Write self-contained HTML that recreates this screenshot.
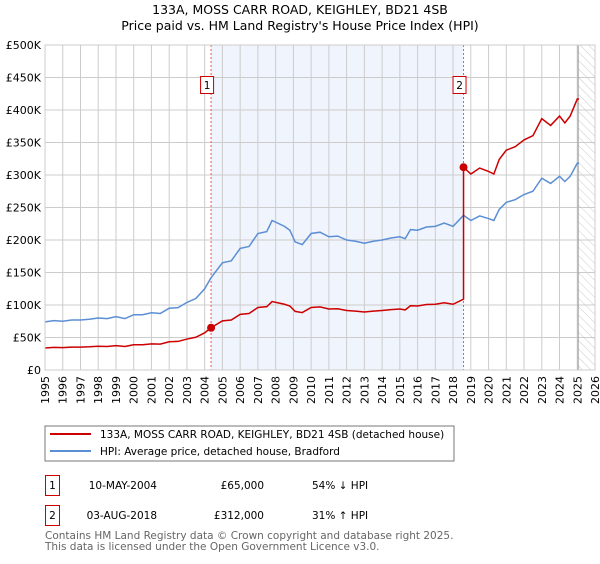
<!DOCTYPE html>
<html><head><meta charset="utf-8"><style>
body{margin:0;background:#fff;font-family:"DejaVu Sans","Liberation Sans",sans-serif;}
svg text{font-family:"DejaVu Sans","Liberation Sans",sans-serif;}
</style></head><body>
<svg id="c" width="600" height="560" xmlns="http://www.w3.org/2000/svg">
<defs><pattern id="hatch" width="6" height="6" patternUnits="userSpaceOnUse" patternTransform="rotate(-45)"><line x1="0" y1="0" x2="0" y2="6" stroke="#ccc" stroke-width="1"/></pattern></defs>
<text x="300" y="14" text-anchor="middle" font-size="12.5">133A, MOSS CARR ROAD, KEIGHLEY, BD21 4SB</text>
<text x="300" y="30" text-anchor="middle" font-size="12.5">Price paid vs. HM Land Registry's House Price Index (HPI)</text>
<g id="plot"></g>
<rect x="45" y="426" width="409" height="35" fill="#fff" stroke="#777"/>
<line x1="50" y1="434" x2="91" y2="434" stroke="#cc0000" stroke-width="2"/>
<text x="100" y="438" font-size="10.5">133A, MOSS CARR ROAD, KEIGHLEY, BD21 4SB (detached house)</text>
<line x1="50" y1="451" x2="91" y2="451" stroke="#5b8fd4" stroke-width="2"/>
<text x="100" y="455" font-size="10.5">HPI: Average price, detached house, Bradford</text>
<g>
<rect x="45.5" y="475.5" width="14" height="20" fill="#fff" stroke="#cc0000"/>
<text x="52.5" y="489" text-anchor="middle" font-size="10.5">1</text>
<text x="157" y="489" text-anchor="end" font-size="10.5">10-MAY-2004</text>
<text x="264" y="489" text-anchor="end" font-size="10.5">£65,000</text>
<text x="312" y="489" font-size="10.5">54% ↓ HPI</text>
</g>
<g>
<rect x="45.5" y="505.5" width="14" height="20" fill="#fff" stroke="#cc0000"/>
<text x="52.5" y="519" text-anchor="middle" font-size="10.5">2</text>
<text x="157" y="519" text-anchor="end" font-size="10.5">03-AUG-2018</text>
<text x="264" y="519" text-anchor="end" font-size="10.5">£312,000</text>
<text x="312" y="519" font-size="10.5">31% ↑ HPI</text>
</g>
<text x="45" y="539" font-size="10.5" fill="#666">Contains HM Land Registry data © Crown copyright and database right 2025.</text>
<text x="45" y="550" font-size="10.5" fill="#666">This data is licensed under the Open Government Licence v3.0.</text>
</svg>
<script>
const hpiYears=[1995,1995.5,1996,1996.5,1997,1997.5,1998,1998.5,1999,1999.5,2000,2000.5,2001,2001.5,2002,2002.5,2003,2003.5,2004,2004.36,2005,2005.5,2006,2006.5,2007,2007.5,2007.8,2008.5,2008.8,2009.1,2009.5,2010,2010.5,2011,2011.5,2012,2012.5,2013,2013.5,2014,2014.5,2015,2015.3,2015.6,2016,2016.5,2017,2017.5,2018,2018.59,2019,2019.5,2020,2020.3,2020.6,2021,2021.5,2022,2022.5,2023,2023.5,2024,2024.3,2024.6,2025,2025.1];
const hpiValues=[74,76,75,77,77,78,80,79,82,79,85,85,88,87,95,96,104,110,125,142,165,168,187,190,210,213,230,221,215,197,193,210,212,205,206,200,198,195,198,200,203,205,202,216,215,220,221,226,221,238,230,237,233,230,247,258,262,270,275,295,287,298,290,298,318,318];
const saleDates=[2004.36,2018.59];
const salePrices=[65,312];
const saleLabels=["1","2"];
const yTicks=[0,50,100,150,200,250,300,350,400,450,500];
const yTickLabels=["£0","£50K","£100K","£150K","£200K","£250K","£300K","£350K","£400K","£450K","£500K"];
const xTicks=[1995,1996,1997,1998,1999,2000,2001,2002,2003,2004,2005,2006,2007,2008,2009,2010,2011,2012,2013,2014,2015,2016,2017,2018,2019,2020,2021,2022,2023,2024,2025,2026];
const dataEnd=2025.05;
const X0=45,X1=595,Y0=370,Y1=45;
const xs=y=>X0+(y-1995)/(2026-1995)*(X1-X0);
const ys=v=>Y0-v/500*(Y0-Y1);
const NS="http://www.w3.org/2000/svg";
const g=document.getElementById('plot');
function mk(t,a,p){const e=document.createElementNS(NS,t);for(const k in a)e.setAttribute(k,a[k]);(p||g).appendChild(e);return e;}
let e;
e=mk('rect',{x:xs(saleDates[0]),y:Y1,width:xs(saleDates[1])-xs(saleDates[0]),height:Y0-Y1,fill:'#f0f4fd'});


e=mk('rect',{x:xs(dataEnd),y:Y1,width:X1-xs(dataEnd),height:Y0-Y1,fill:'url(#hatch)'});


xTicks.forEach(t=>{e=mk('line',{x1:xs(t),x2:xs(t),y1:Y1,y2:Y0,stroke:'#ccc','stroke-width':1});


e=mk('text',{x:0,y:0,transform:`translate(${xs(t)+4},${Y0+6}) rotate(-90)`,'text-anchor':'end','font-size':11});
e.textContent=t;

});
yTicks.forEach((t,i)=>{e=mk('line',{x1:X0,x2:X1,y1:ys(t),y2:ys(t),stroke:'#ccc','stroke-width':1});


e=mk('text',{x:X0-4,y:ys(t)+4,'text-anchor':'end','font-size':11});
e.textContent=yTickLabels[i];

});
e=mk('line',{x1:xs(dataEnd),x2:xs(dataEnd),y1:Y1,y2:Y0,stroke:'#999','stroke-width':1});


function hpiAt(d){for(let i=1;i<hpiYears.length;i++){if(d<=hpiYears[i]){const f=(d-hpiYears[i-1])/(hpiYears[i]-hpiYears[i-1]);return hpiValues[i-1]+f*(hpiValues[i]-hpiValues[i-1]);}}return hpiValues[hpiValues.length-1];}
saleDates.forEach((d,i)=>{e=mk('line',{x1:xs(d),x2:xs(d),y1:Y1,y2:Y0,stroke:'#e55','stroke-width':1,'stroke-dasharray':'2,2'});


e=mk('rect',{x:xs(d)-10.5,y:76.5,width:13,height:17,fill:'#fff',stroke:'#cc0000'});


e=mk('text',{x:xs(d)-4,y:89,'text-anchor':'middle','font-size':10.5});
e.textContent=saleLabels[i];

});
e=mk('polyline',{points:hpiYears.map((y,i)=>xs(y)+','+ys(hpiValues[i])).join(' '),fill:'none',stroke:'#5b8fd4','stroke-width':1.5});


const r1=salePrices[0]/hpiAt(saleDates[0]),r2=salePrices[1]/hpiAt(saleDates[1]);
const pts=[];
hpiYears.forEach((y,i)=>{if(y<saleDates[1]){pts.push([y,hpiValues[i]*r1]);}});
pts.push([saleDates[1],hpiAt(saleDates[1])*r1]);
pts.push([saleDates[1],salePrices[1]]);
hpiYears.forEach((y,i)=>{if(y>saleDates[1])pts.push([y,hpiValues[i]*r2]);});
e=mk('polyline',{points:pts.map(p=>xs(p[0])+','+ys(p[1])).join(' '),fill:'none',stroke:'#cc0000','stroke-width':1.5});


saleDates.forEach((d,i)=>{e=mk('circle',{cx:xs(d),cy:ys(salePrices[i]),r:4,fill:'#cc0000'});

});
e=mk('rect',{x:X0,y:Y1,width:X1-X0,height:Y0-Y1,fill:'none',stroke:'#ccc'});


</script>
</body></html>
